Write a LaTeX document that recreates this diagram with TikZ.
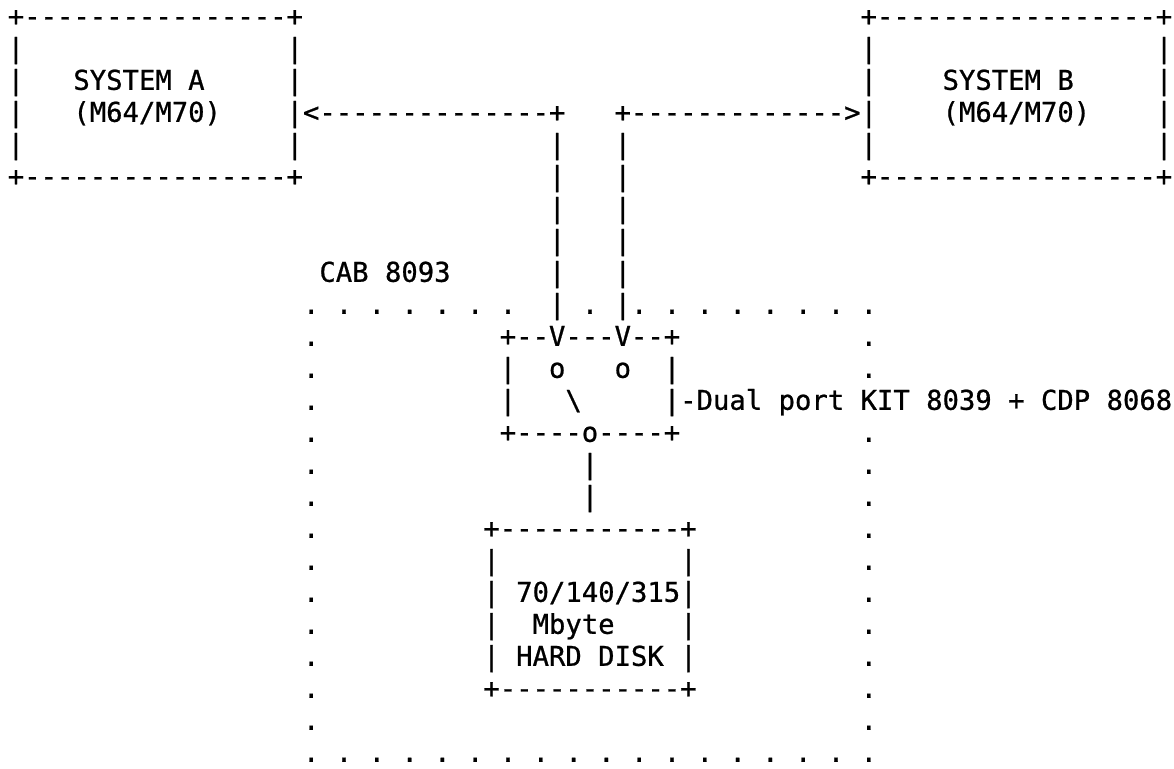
\documentclass[tikz,border=0pt]{standalone}
\usepackage{fontspec}
\setmonofont{DejaVu Sans Mono}[FakeBold=0.8]
\tikzset{ch/.style={anchor=base west, inner sep=0pt, outer sep=0pt, font=\ttfamily\fontsize{27.24}{32}\selectfont}}
\newcommand\putseg[4]{\node[ch] (#1) at ({16+(#2)*16.4-8.2},{16+(#3)*32.0+9.8}) {#4};}
\begin{document}
\begin{tikzpicture}[x=1pt,y=-1pt]
\useasboundingbox (0,0) rectangle (1174,768);
% box A
\putseg{aT}{0}{0}{+----------------+}
\putseg{aL1}{0}{1}{|} \putseg{aR1}{17}{1}{|}
\putseg{aL2}{0}{2}{|} \putseg{aTx1}{4}{2}{SYSTEM A} \putseg{aR2}{17}{2}{|}
\putseg{aL3}{0}{3}{|} \putseg{aTx2}{4}{3}{(M64/M70)}
\putseg{arrL}{17}{3}{|<--------------+}
\putseg{aL4}{0}{4}{|} \putseg{aR4}{17}{4}{|}
\putseg{aB}{0}{5}{+----------------+}
% box B
\putseg{bT}{52}{0}{+-----------------+}
\putseg{bL1}{52}{1}{|} \putseg{bR1}{70}{1}{|}
\putseg{bL2}{52}{2}{|} \putseg{bTx1}{57}{2}{SYSTEM B} \putseg{bR2}{70}{2}{|}
\putseg{arrR}{37}{3}{+------------->|}
\putseg{bTx2}{57}{3}{(M64/M70)} \putseg{bR3}{70}{3}{|}
\putseg{bL4}{52}{4}{|} \putseg{bR4}{70}{4}{|}
\putseg{bB}{52}{5}{+-----------------+}
% vertical lines
\foreach \r in {4,...,9} {\putseg{la\r}{33}{\r}{|} \putseg{lb\r}{37}{\r}{|}}
\putseg{cab}{19}{8}{CAB 8093}
% dotted enclosure
\foreach \c in {18,20,...,30} {\putseg{dta\c}{\c}{9}{.}}
\putseg{dtm}{35}{9}{.}
\foreach \c in {38,40,...,52} {\putseg{dtb\c}{\c}{9}{.}}
\foreach \r in {10,...,22} {\putseg{sl\r}{18}{\r}{.}}
\foreach \r in {10,11} {\putseg{sr\r}{52}{\r}{.}}
\foreach \r in {13,...,22} {\putseg{sr\r}{52}{\r}{.}}
\foreach \c in {18,20,...,52} {\putseg{db\c}{\c}{23}{.}}
% dual port kit
\putseg{kT}{30}{10}{+--V---V--+}
\putseg{kL1}{30}{11}{|} \putseg{ko1}{33}{11}{o} \putseg{ko2}{37}{11}{o} \putseg{kR1}{40}{11}{|}
\putseg{kL2}{30}{12}{|} \putseg{ksw}{34}{12}{\textbackslash} \putseg{kR2}{40}{12}{|}
\putseg{dual}{41}{12}{-Dual port KIT 8039 + CDP 8068}
\putseg{kB}{30}{13}{+----o----+}
\putseg{c1}{35}{14}{|} \putseg{c2}{35}{15}{|}
% hard disk
\putseg{dT}{29}{16}{+-----------+}
\putseg{dL1}{29}{17}{|} \putseg{dR1}{41}{17}{|}
\putseg{dL2}{29}{18}{|} \putseg{dx1}{31}{18}{70/140/315} \putseg{dR2}{41}{18}{|}
\putseg{dL3}{29}{19}{|} \putseg{dx2}{32}{19}{Mbyte} \putseg{dR3}{41}{19}{|}
\putseg{dL4}{29}{20}{|} \putseg{dx3}{31}{20}{HARD DISK} \putseg{dR4}{41}{20}{|}
\putseg{dB}{29}{21}{+-----------+}
\end{tikzpicture}
\end{document}
